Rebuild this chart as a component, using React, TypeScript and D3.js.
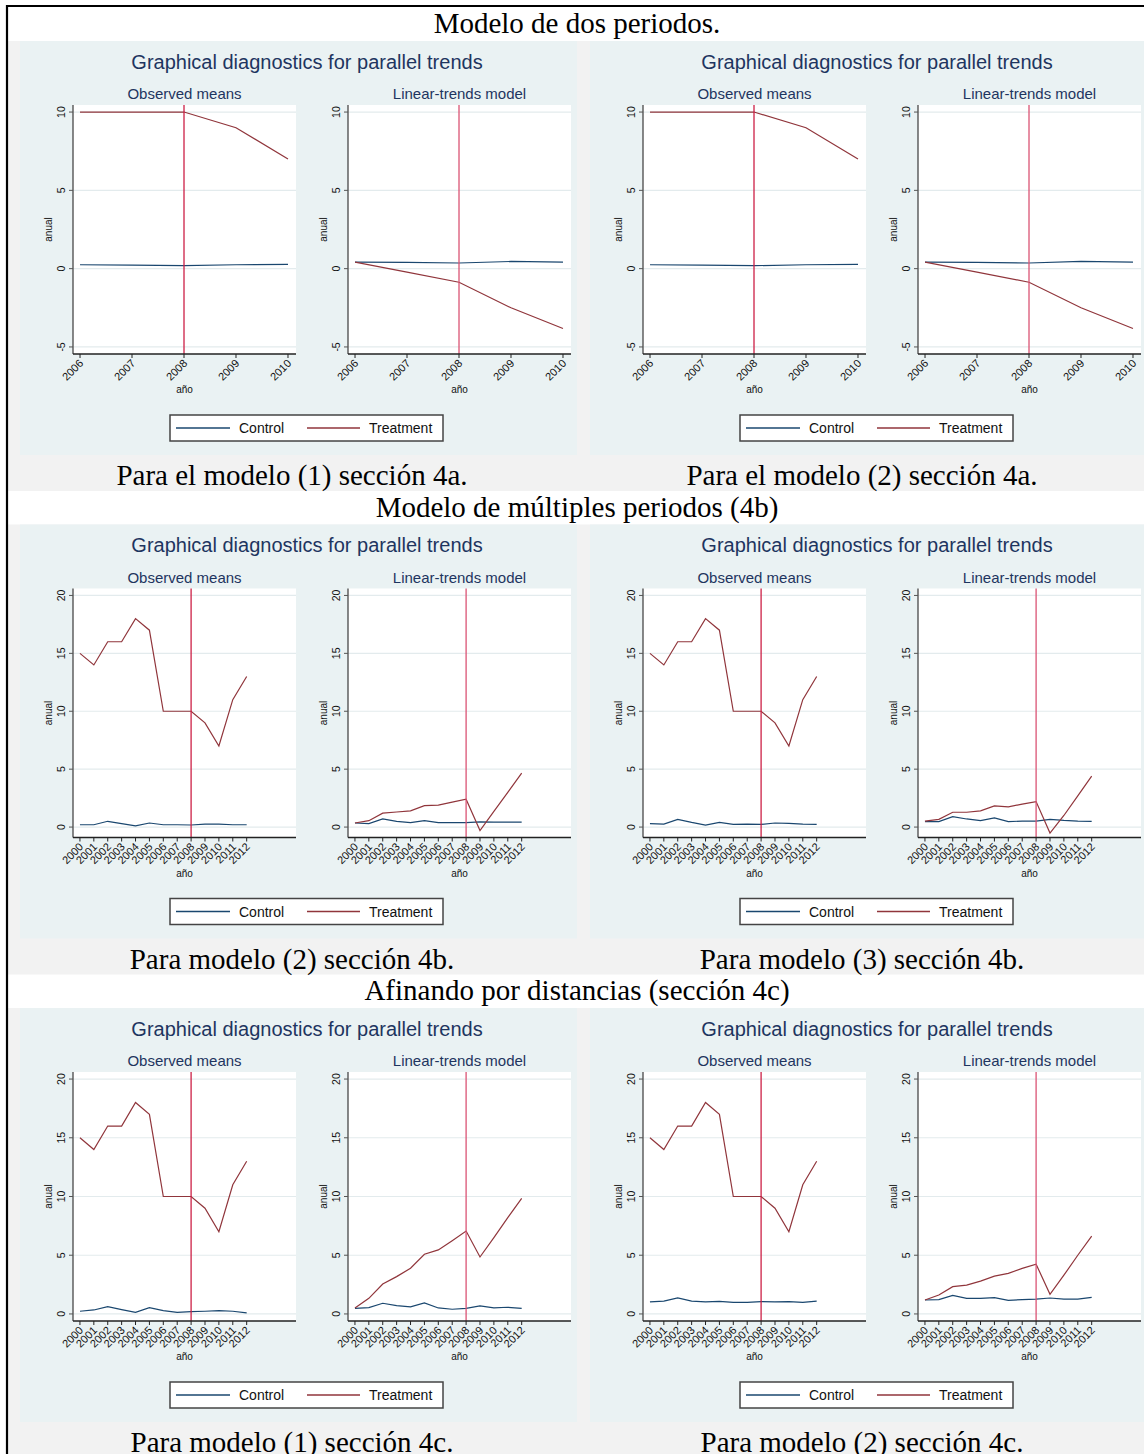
import React from "react";
import * as d3 from "d3";

// ---------------- DATA ----------------
const sectionTitles = [
  "Modelo de dos periodos.",
  "Modelo de múltiples periodos (4b)",
  "Afinando por distancias (sección 4c)",
];
const captionsLeft = [
  "Para el modelo (1) sección 4a.",
  "Para modelo (2) sección 4b.",
  "Para modelo (1) sección 4c.",
];
const captionsRight = [
  "Para el modelo (2) sección 4a.",
  "Para modelo (3) sección 4b.",
  "Para modelo (2) sección 4c.",
];
const graphTitle = "Graphical diagnostics for parallel trends";
const subTitles = ["Observed means", "Linear-trends model"];
const legendLabels = ["Control", "Treatment"];
const xAxisTitle = "año";
const yAxisTitle = "anual";

const yearsTwo = [2006, 2007, 2008, 2009, 2010];
const yearsMulti = [2000, 2001, 2002, 2003, 2004, 2005, 2006, 2007, 2008, 2009, 2010, 2011, 2012];
const treatmentYear = 2008;
const yTicksTwo = [-5, 0, 5, 10];
const yTicksMulti = [0, 5, 10, 15, 20];

// Model (1) 4a
const m1a_obsControl = [0.25, 0.23, 0.19, 0.25, 0.27];
const m1a_obsTreatment = [10, 10, 10, 9, 7];
const m1a_linControl = [0.42, 0.4, 0.36, 0.46, 0.42];
const m1a_linTreatment = [0.42, -0.22, -0.87, -2.5, -3.82];
// Model (2) 4a
const m2a_obsControl = [0.25, 0.23, 0.19, 0.25, 0.27];
const m2a_obsTreatment = [10, 10, 10, 9, 7];
const m2a_linControl = [0.42, 0.4, 0.36, 0.46, 0.42];
const m2a_linTreatment = [0.42, -0.22, -0.87, -2.5, -3.82];

// Observed treatment means (multi-period)
const obsTreatmentMulti = [15, 14, 16, 16, 18, 17, 10, 10, 10, 9, 7, 11, 13];

// Model (2) 4b
const m2b_obsControl = [0.2, 0.2, 0.5, 0.3, 0.1, 0.35, 0.2, 0.2, 0.18, 0.25, 0.25, 0.2, 0.2];
const m2b_linControl = [0.35, 0.3, 0.7, 0.5, 0.38, 0.55, 0.38, 0.38, 0.38, 0.45, 0.43, 0.43, 0.43];
const m2b_linTreatment = [0.35, 0.55, 1.2, 1.3, 1.4, 1.85, 1.9, 2.15, 2.4, -0.3, 1.35, 3.0, 4.65];
// Model (3) 4b
const m3b_obsControl = [0.3, 0.26, 0.67, 0.4, 0.17, 0.4, 0.23, 0.26, 0.23, 0.35, 0.32, 0.26, 0.23];
const m3b_linControl = [0.47, 0.47, 0.9, 0.7, 0.55, 0.79, 0.47, 0.52, 0.52, 0.67, 0.58, 0.52, 0.5];
const m3b_linTreatment = [0.52, 0.67, 1.28, 1.28, 1.4, 1.83, 1.75, 1.98, 2.2, -0.52, 1.0, 2.7, 4.4];
// Model (1) 4c
const m1c_obsControl = [0.23, 0.34, 0.62, 0.37, 0.14, 0.54, 0.28, 0.14, 0.2, 0.23, 0.28, 0.23, 0.09];
const m1c_linControl = [0.48, 0.54, 0.91, 0.71, 0.6, 0.94, 0.51, 0.4, 0.48, 0.68, 0.51, 0.57, 0.48];
const m1c_linTreatment = [0.51, 1.33, 2.55, 3.18, 3.89, 5.08, 5.45, 6.24, 7.06, 4.85, 6.5, 8.2, 9.84];
// Model (2) 4c
const m2c_obsControl = [1.02, 1.1, 1.36, 1.1, 1.02, 1.07, 0.99, 0.99, 1.05, 1.02, 1.05, 0.99, 1.1];
const m2c_linControl = [1.19, 1.22, 1.58, 1.33, 1.33, 1.39, 1.16, 1.22, 1.27, 1.36, 1.27, 1.27, 1.41];
const m2c_linTreatment = [1.19, 1.61, 2.32, 2.46, 2.8, 3.22, 3.45, 3.88, 4.24, 1.67, 3.3, 5.0, 6.62];

// ---------------- STYLE / LAYOUT ----------------
const W = 1144;
const H = 1454;
const SANS = "'Liberation Sans', Arial, Helvetica, sans-serif";
const SERIF = "'Liberation Serif', 'Times New Roman', Times, serif";
const C_CONTROL = "#1A476F";
const C_TREAT = "#90353B";
const C_TITLE = "#1E3560";
const C_PANEL = "#EAF2F3";
const C_CELL = "#F2F2F2";
const C_GRID = "#E3EBED";
const PANEL_W = 557;
const PANEL_H = 414;
const PLOT_W = 223;
const PLOT_H = 249;
const rowTops = [41, 524.5, 1008];
const colLefts = [20, 590];

type PanelSpec = {
  years: number[];
  xDom: [number, number];
  yDom: [number, number];
  yTicks: number[];
  obsC: number[];
  obsT: number[];
  linC: number[];
  linT: number[];
};

const xDomTwo: [number, number] = [2005.865, 2010.154];
const xDomMulti: [number, number] = [1999.5, 2015.55];

const rowsSpec: PanelSpec[][] = [
  [
    { years: yearsTwo, xDom: xDomTwo, yDom: [-5.45, 10.45], yTicks: yTicksTwo, obsC: m1a_obsControl, obsT: m1a_obsTreatment, linC: m1a_linControl, linT: m1a_linTreatment },
    { years: yearsTwo, xDom: xDomTwo, yDom: [-5.45, 10.45], yTicks: yTicksTwo, obsC: m2a_obsControl, obsT: m2a_obsTreatment, linC: m2a_linControl, linT: m2a_linTreatment },
  ],
  [
    { years: yearsMulti, xDom: xDomMulti, yDom: [-0.9, 20.6], yTicks: yTicksMulti, obsC: m2b_obsControl, obsT: obsTreatmentMulti, linC: m2b_linControl, linT: m2b_linTreatment },
    { years: yearsMulti, xDom: xDomMulti, yDom: [-0.9, 20.6], yTicks: yTicksMulti, obsC: m3b_obsControl, obsT: obsTreatmentMulti, linC: m3b_linControl, linT: m3b_linTreatment },
  ],
  [
    { years: yearsMulti, xDom: xDomMulti, yDom: [-0.6, 20.6], yTicks: yTicksMulti, obsC: m1c_obsControl, obsT: obsTreatmentMulti, linC: m1c_linControl, linT: m1c_linTreatment },
    { years: yearsMulti, xDom: xDomMulti, yDom: [-0.6, 20.6], yTicks: yTicksMulti, obsC: m2c_obsControl, obsT: obsTreatmentMulti, linC: m2c_linControl, linT: m2c_linTreatment },
  ],
];

function Plot(props: {
  ax: number;
  top: number;
  years: number[];
  xDom: [number, number];
  yDom: [number, number];
  yTicks: number[];
  control: number[];
  treatment: number[];
  subtitle: string;
  vColor: string;
}) {
  const { ax, top, years, xDom, yDom, yTicks, control, treatment, subtitle, vColor } = props;
  const x = d3.scaleLinear().domain(xDom).range([ax, ax + PLOT_W]);
  const y = d3.scaleLinear().domain(yDom).range([top + PLOT_H, top]);
  const line = d3
    .line<number>()
    .x((_d, i) => x(years[i]))
    .y((d) => y(d));
  const bottom = top + PLOT_H;
  const cx = ax + PLOT_W / 2;
  return (
    <g>
      <text x={cx} y={top - 6} textAnchor="middle" fontFamily={SANS} fontSize={15} fill={C_TITLE}>
        {subtitle}
      </text>
      <rect x={ax} y={top} width={PLOT_W} height={PLOT_H} fill="#fff" />
      {yTicks.map((t) => (
        <line key={"g" + t} x1={ax} x2={ax + PLOT_W} y1={y(t)} y2={y(t)} stroke={C_GRID} strokeWidth={1.2} />
      ))}
      <path d={line(control) || ""} fill="none" stroke={C_CONTROL} strokeWidth={1.2} />
      <path d={line(treatment) || ""} fill="none" stroke={C_TREAT} strokeWidth={1.2} />
      <line x1={x(treatmentYear)} x2={x(treatmentYear)} y1={top} y2={bottom} stroke={vColor} strokeWidth={1.3} />
      {/* y axis */}
      <line x1={ax} x2={ax} y1={top} y2={bottom} stroke="#555" strokeWidth={1.4} />
      {yTicks.map((t) => (
        <g key={"yt" + t}>
          <line x1={ax - 4} x2={ax} y1={y(t)} y2={y(t)} stroke="#555" strokeWidth={1} />
          <text
            x={ax - 8}
            y={y(t)}
            transform={`rotate(-90, ${ax - 8}, ${y(t)})`}
            textAnchor="middle"
            fontFamily={SANS}
            fontSize={10.5}
            fill="#111"
          >
            {t}
          </text>
        </g>
      ))}
      <text
        x={ax - 21}
        y={top + PLOT_H / 2}
        transform={`rotate(-90, ${ax - 21}, ${top + PLOT_H / 2})`}
        textAnchor="middle"
        fontFamily={SANS}
        fontSize={10}
        fill="#111"
      >
        {yAxisTitle}
      </text>
      {/* x axis */}
      <line x1={ax} x2={ax + PLOT_W} y1={bottom} y2={bottom} stroke="#222" strokeWidth={1.5} />
      {years.map((yr) => (
        <g key={"xt" + yr}>
          <line x1={x(yr)} x2={x(yr)} y1={bottom} y2={bottom + 4} stroke="#222" strokeWidth={1} />
          <text
            x={x(yr) + 4}
            y={bottom + 10}
            transform={`rotate(-45, ${x(yr) + 4}, ${bottom + 10})`}
            textAnchor="end"
            fontFamily={SANS}
            fontSize={11}
            fill="#111"
          >
            {yr}
          </text>
        </g>
      ))}
      <text x={cx} y={top + 288} textAnchor="middle" fontFamily={SANS} fontSize={10} fill="#111">
        {xAxisTitle}
      </text>
    </g>
  );
}

function Panel(props: { L: number; T: number; spec: PanelSpec }) {
  const { L, T, spec } = props;
  const plotTop = T + 64;
  return (
    <g>
      <rect x={L} y={T} width={PANEL_W} height={PANEL_H} fill={C_PANEL} />
      <text x={L + 287} y={T + 27.5} textAnchor="middle" fontFamily={SANS} fontSize={20} fill={C_TITLE}>
        {graphTitle}
      </text>
      <Plot
        ax={L + 53}
        top={plotTop}
        years={spec.years}
        xDom={spec.xDom}
        yDom={spec.yDom}
        yTicks={spec.yTicks}
        control={spec.obsC}
        treatment={spec.obsT}
        subtitle={subTitles[0]}
        vColor="#CC1F45"
      />
      <Plot
        ax={L + 328}
        top={plotTop}
        years={spec.years}
        xDom={spec.xDom}
        yDom={spec.yDom}
        yTicks={spec.yTicks}
        control={spec.linC}
        treatment={spec.linT}
        subtitle={subTitles[1]}
        vColor="#DA5374"
      />
      {/* legend */}
      <rect x={L + 150} y={T + 374} width={273} height={26} fill="#fff" stroke="#444" strokeWidth={1.5} />
      <line x1={L + 156} x2={L + 210} y1={T + 387} y2={T + 387} stroke={C_CONTROL} strokeWidth={1.6} />
      <text x={L + 219} y={T + 392} fontFamily={SANS} fontSize={14} fill="#111">
        {legendLabels[0]}
      </text>
      <line x1={L + 287} x2={L + 340} y1={T + 387} y2={T + 387} stroke={C_TREAT} strokeWidth={1.6} />
      <text x={L + 349} y={T + 392} fontFamily={SANS} fontSize={14} fill="#111">
        {legendLabels[1]}
      </text>
    </g>
  );
}

export default function App() {
  return (
    <div style={{ position: "absolute", left: 0, top: 0 }}>
      <svg width={W} height={H} viewBox={`0 0 ${W} ${H}`} style={{ display: "block", background: "#fff" }}>
        <rect x={0} y={0} width={W} height={H} fill="#fff" />
        {rowTops.map((T, r) => (
          <g key={"row" + r}>
            {/* grey cell */}
            <rect x={8} y={T} width={W - 8} height={450} fill={C_CELL} />
            <text x={577} y={T - 8} textAnchor="middle" fontFamily={SERIF} fontSize={29} fill="#000">
              {sectionTitles[r]}
            </text>
            {colLefts.map((L, c) => (
              <Panel key={"p" + c} L={L} T={T} spec={rowsSpec[r][c]} />
            ))}
            <text x={292} y={T + PANEL_H + 30} textAnchor="middle" fontFamily={SERIF} fontSize={29} fill="#000">
              {captionsLeft[r]}
            </text>
            <text x={862} y={T + PANEL_H + 30} textAnchor="middle" fontFamily={SERIF} fontSize={29} fill="#000">
              {captionsRight[r]}
            </text>
          </g>
        ))}
        {/* frame */}
        <line x1={7} x2={7} y1={5} y2={H} stroke="#000" strokeWidth={2.2} />
        <line x1={6} x2={W} y1={6} y2={6} stroke="#000" strokeWidth={2.2} />
      </svg>
    </div>
  );
}
